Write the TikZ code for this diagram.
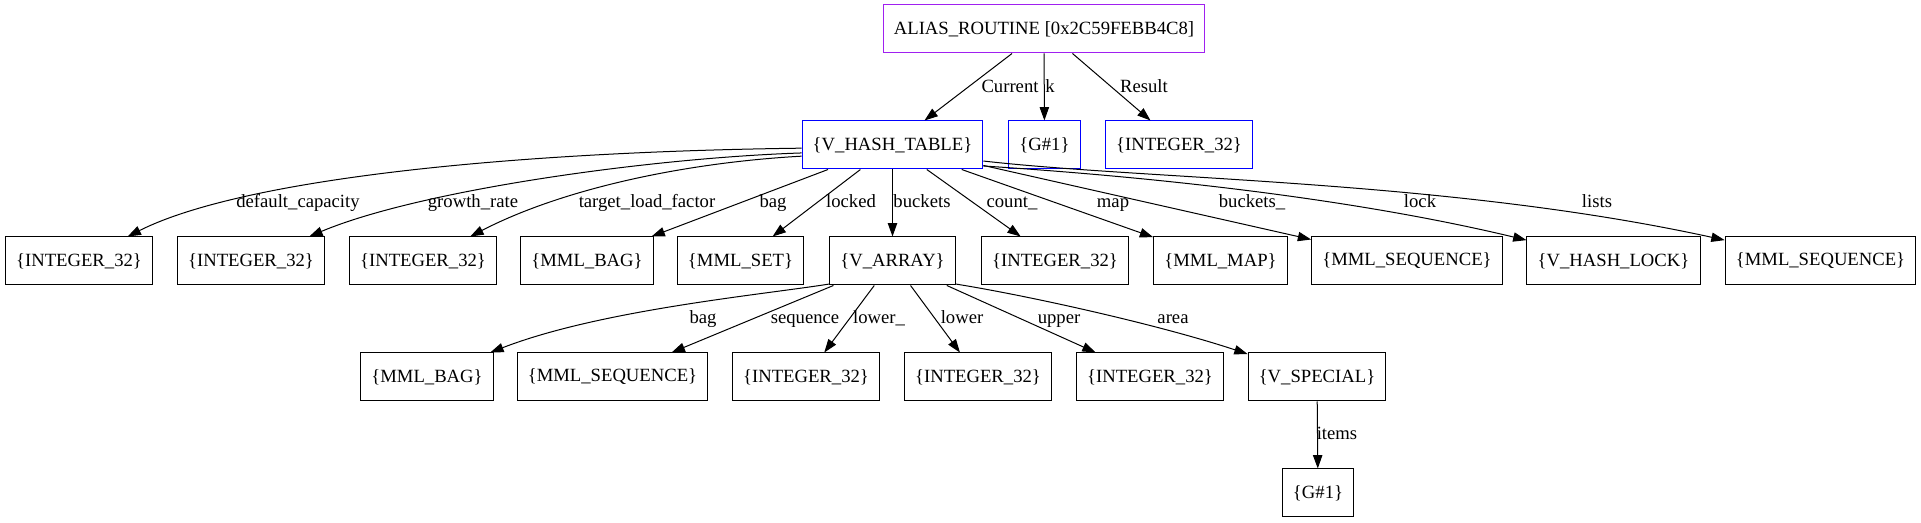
\documentclass[tikz,border=0pt]{standalone}
\usepackage{fontspec}
\setmainfont{Liberation Serif}
\usepackage{tikz}
\usetikzlibrary{arrows.meta}
\definecolor{rootpurple}{HTML}{A020F0}
\definecolor{argblue}{HTML}{0000FF}

\begin{document}
\begin{tikzpicture}[x=0.75pt, y=-0.75pt, >={Triangle[length=10pt,width=7pt]},
  every node/.style={font=\fontsize{14pt}{16pt}\selectfont},
  box/.style={rectangle,draw,line width=0.75pt,inner xsep=8pt,inner ysep=0pt,minimum height=36pt},
  lbl/.style={anchor=base,inner sep=0pt},
  link/.style={->,line width=0.75pt}]

\useasboundingbox (0,0) rectangle (1921,523);

% Routine
\node[box,draw=rootpurple] at (1044,29) (alias) {ALIAS\_ROUTINE [0x2C59FEBB4C8]};

% Arguments and result
\node[box,draw=argblue] at (892.5,145) (vht) {\{V\_HASH\_TABLE\}};
\node[box,draw=argblue] at (1044.5,145) (g1) {\{G\#1\}};
\node[box,draw=argblue] at (1179,145) (res) {\{INTEGER\_32\}};

% Hash table fields
\node[box] at (79,261) (cap) {\{INTEGER\_32\}};
\node[box] at (251,261) (grow) {\{INTEGER\_32\}};
\node[box] at (423,261) (load) {\{INTEGER\_32\}};
\node[box] at (587,261) (bag1) {\{MML\_BAG\}};
\node[box] at (740.5,261) (set1) {\{MML\_SET\}};
\node[box] at (892.5,261) (varr) {\{V\_ARRAY\}};
\node[box] at (1055,261) (cnt) {\{INTEGER\_32\}};
\node[box] at (1220.5,261) (map1) {\{MML\_MAP\}};
\node[box] at (1407,261) (seq1) {\{MML\_SEQUENCE\}};
\node[box] at (1613.5,261) (hlock) {\{V\_HASH\_LOCK\}};
\node[box] at (1820.5,261) (seq2) {\{MML\_SEQUENCE\}};

% Array fields
\node[box] at (427,377) (bag2) {\{MML\_BAG\}};
\node[box] at (612.5,377) (seq3) {\{MML\_SEQUENCE\}};
\node[box] at (806,377) (low1) {\{INTEGER\_32\}};
\node[box] at (978,377) (low2) {\{INTEGER\_32\}};
\node[box] at (1150,377) (upp) {\{INTEGER\_32\}};
\node[box] at (1317,377) (spec) {\{V\_SPECIAL\}};

% Special items
\node[box] at (1318,493) (g2) {\{G\#1\}};

% Connections: routine
\draw[link] (alias) -- (vht);
\draw[link] (alias) -- (g1);
\draw[link] (alias) -- (res);

% Connections: hash table
\draw[link] (vht.182) .. controls (500,152) and (240,180) .. (cap);
\draw[link] (vht.185) .. controls (650,158) and (420,190) .. (grow);
\draw[link] (vht.187) .. controls (680,163) and (560,190) .. (load);
\draw[link] (vht) -- (bag1);
\draw[link] (vht) -- (set1);
\draw[link] (vht) -- (varr);
\draw[link] (vht) -- (cnt);
\draw[link] (vht) -- (map1);
\draw[link] (vht) -- (seq1);
\draw[link] (vht.347) .. controls (1200,180) and (1380,205) .. (hlock);
\draw[link] (vht.350) .. controls (1150,180) and (1450,180) .. (seq2);

% Connections: array
\draw[link] (varr.200) .. controls (760,295) and (600,310) .. (bag2);
\draw[link] (varr) -- (seq3);
\draw[link] (varr) -- (low1);
\draw[link] (varr) -- (low2);
\draw[link] (varr) -- (upp);
\draw[link] (varr.-20) .. controls (1030,296) and (1160,325) .. (spec);
\draw[link] (spec) -- (g2);

% Edge labels
\node[lbl] at (1010,93) (l-cur) {Current};
\node[lbl] at (1050,93) (l-k) {k};
\node[lbl] at (1144,93) (l-res) {Result};

\node[lbl] at (298,208) (l-cap) {default\_capacity};
\node[lbl] at (473,208) (l-grow) {growth\_rate};
\node[lbl] at (647,208) (l-load) {target\_load\_factor};
\node[lbl] at (773,208) (l-bag1) {bag};
\node[lbl] at (851,208) (l-lkd) {locked};
\node[lbl] at (922,208) (l-bkt) {buckets};
\node[lbl] at (1012,208) (l-cnt) {count\_};
\node[lbl] at (1113,208) (l-map) {map};
\node[lbl] at (1252,208) (l-bkt2) {buckets\_};
\node[lbl] at (1420,208) (l-lock) {lock};
\node[lbl] at (1597,208) (l-lists) {lists};

\node[lbl] at (703,324) (l-bag2) {bag};
\node[lbl] at (805,324) (l-seq) {sequence};
\node[lbl] at (879,324) (l-low1) {lower\_};
\node[lbl] at (962,324) (l-low2) {lower};
\node[lbl] at (1059,324) (l-upp) {upper};
\node[lbl] at (1173,324) (l-area) {area};

\node[lbl] at (1337,440) (l-items) {items};
\end{tikzpicture}
\end{document}
